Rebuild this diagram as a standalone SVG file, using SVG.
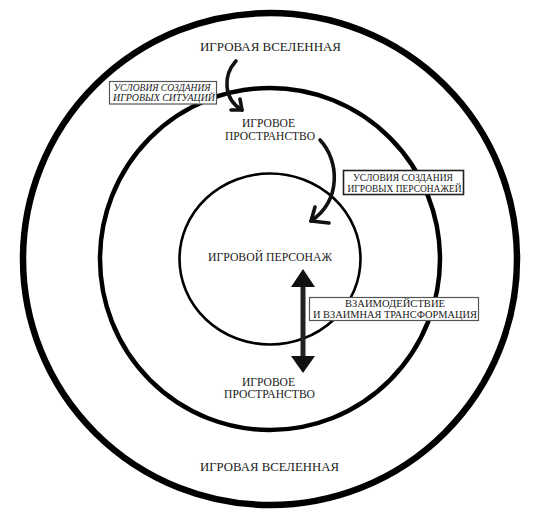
<svg xmlns="http://www.w3.org/2000/svg" width="536" height="519" viewBox="0 0 536 519">
<style>
text{font-family:"Liberation Serif","DejaVu Serif","Noto Serif",serif;fill:#1a1a1a;text-anchor:middle}
.lbl{font-size:12.5px}
.sm{font-size:11.5px}
.bx{font-size:10px}
.it{font-style:italic}
.ring{fill:none;stroke:#000}
.arc{fill:none;stroke:#111;stroke-width:3.6;stroke-linecap:round;stroke-linejoin:round}
.box{fill:#fff}
</style>
<rect width="536" height="519" fill="#fff"/>
<g id="universe">
<ellipse class="ring" cx="270" cy="259" rx="247" ry="246" stroke-width="6.5"/>
<text class="lbl" x="270.5" y="51" textLength="141" lengthAdjust="spacingAndGlyphs">ИГРОВАЯ ВСЕЛЕННАЯ</text>
<text class="lbl" x="269.5" y="471" textLength="139" lengthAdjust="spacingAndGlyphs">ИГРОВАЯ ВСЕЛЕННАЯ</text>
</g>
<g id="space">
<ellipse class="ring" cx="270" cy="259" rx="170" ry="171" stroke-width="4.5"/>
<text class="sm" x="268.5" y="127" textLength="53" lengthAdjust="spacingAndGlyphs">ИГРОВОЕ</text>
<text class="sm" x="270" y="140" textLength="90" lengthAdjust="spacingAndGlyphs">ПРОСТРАНСТВО</text>
<text class="sm" x="268.5" y="386" textLength="53" lengthAdjust="spacingAndGlyphs">ИГРОВОЕ</text>
<text class="sm" x="269.5" y="398" textLength="91" lengthAdjust="spacingAndGlyphs">ПРОСТРАНСТВО</text>
</g>
<g id="character">
<ellipse class="ring" cx="270" cy="259" rx="90.5" ry="85.5" stroke-width="2.6"/>
<text class="sm" x="270" y="261" textLength="124" lengthAdjust="spacingAndGlyphs">ИГРОВОЙ ПЕРСОНАЖ</text>
</g>
<g id="connectors">
<path class="arc" d="M236,61 C223,75 223,99 242,110"/>
<path class="arc" d="M240,99 L242,110 L231,110"/>
<path class="arc" d="M320,140 C339,160 342,200 311,221"/>
<path class="arc" d="M315,207 L311,221 L329,223"/>
<line x1="303" y1="284" x2="303" y2="358" stroke="#222" stroke-width="5"/>
<polygon points="303,269 315,287 291,287" fill="#111"/>
<polygon points="303,373 315,356 291,356" fill="#111"/>
</g>
<g id="box-situations">
<rect class="box" x="109.5" y="81.5" width="107" height="22.5" stroke="#555" stroke-width="1.2"/>
<text class="bx it" x="162" y="90.5" textLength="97" lengthAdjust="spacingAndGlyphs">УСЛОВИЯ СОЗДАНИЯ</text>
<text class="bx it" x="164" y="101" textLength="102" lengthAdjust="spacingAndGlyphs">ИГРОВЫХ СИТУАЦИЙ</text>
</g>
<g id="box-characters">
<rect class="box" x="343.5" y="170.5" width="120" height="24" stroke="#222" stroke-width="1.6"/>
<text class="bx" x="403" y="181" textLength="100" lengthAdjust="spacingAndGlyphs">УСЛОВИЯ СОЗДАНИЯ</text>
<text class="bx" x="404.5" y="192" textLength="114" lengthAdjust="spacingAndGlyphs">ИГРОВЫХ ПЕРСОНАЖЕЙ</text>
</g>
<g id="box-interaction">
<rect class="box" x="309.5" y="297.5" width="169" height="23" stroke="#555" stroke-width="1.2"/>
<text class="bx" x="395" y="307" textLength="100" lengthAdjust="spacingAndGlyphs">ВЗАИМОДЕЙСТВИЕ</text>
<text class="bx" x="395" y="318" textLength="164" lengthAdjust="spacingAndGlyphs">И ВЗАИМНАЯ ТРАНСФОРМАЦИЯ</text>
</g>
</svg>
